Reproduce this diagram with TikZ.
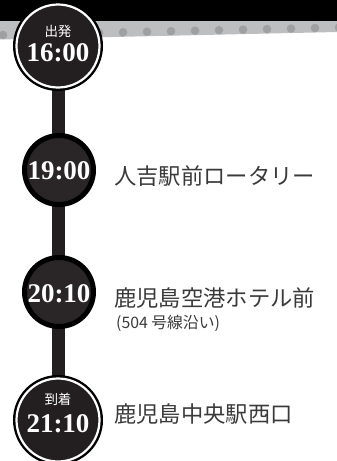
\documentclass[tikz,border=0pt]{standalone}
\usepackage{fontspec}
\setmainfont{Liberation Serif}
\newfontfamily\jp{Noto Sans CJK JP}
\definecolor{stopfill}{HTML}{231F20}
\definecolor{stopfilltwo}{HTML}{2A2627}
\definecolor{bandgray}{HTML}{BCBEC0}
\definecolor{dotgray}{HTML}{9FA0A2}
\definecolor{labelgray}{HTML}{3A3A3A}
\begin{document}
\begin{tikzpicture}[x=1pt,y=-1pt,
  bigstop/.style={circle, fill=stopfill, draw=white, line width=2.2pt, minimum size=83pt, inner sep=0pt,
    preaction={draw=black, line width=7pt}},
  smallstop/.style={circle, fill=stopfilltwo, draw=black, line width=5pt, minimum size=69pt, inner sep=0pt},
  timetext/.style={text=white, font=\fontsize{27}{27}\selectfont\bfseries, inner sep=0pt},
  tagtext/.style={text=white, font=\jp\fontsize{13.5}{13.5}\selectfont, inner sep=0pt},
  placetext/.style={text=labelgray, anchor=west, inner sep=0pt, font=\jp\fontsize{22.3}{22.3}\selectfont},
  subtext/.style={text=labelgray, anchor=west, inner sep=0pt, font=\jp\fontsize{15.8}{15.8}\selectfont},
  routeline/.style={draw=stopfill, line width=13pt}
]
\useasboundingbox (0,0) rectangle (337,461);
% header bands
\fill[black] (0,0) rectangle (337,21);
\fill[bandgray] (0,21) -- (337,21) -- (337,32) -- (0,39.5) -- cycle;
\foreach \i in {0,...,14}{
  \pgfmathsetmacro{\dx}{3+24*\i}
  \pgfmathsetmacro{\dy}{35-0.0224*(\dx-3)}
  \fill[dotgray] (\dx,\dy) circle (4.3);
}
% stop positions
\coordinate (p1) at (58,46);
\coordinate (p2) at (59,170);
\coordinate (p3) at (59,292);
\coordinate (p4) at (58,420);
\draw[routeline] (p1) -- (p4);
% stops
\node[bigstop] (s1) at (p1) {};
\node[smallstop] (s2) at (p2) {};
\node[smallstop] (s3) at (p3) {};
\node[bigstop] (s4) at (p4) {};
% texts in stops
\node[tagtext] (tag1) at (58,31) {出発};
\node[timetext] (t1) at (58,52.5) {16:00};
\node[timetext] (t2) at (59,171) {19:00};
\node[timetext] (t3) at (59,294) {20:10};
\node[tagtext] (tag4) at (58,399) {到着};
\node[timetext] (t4) at (58,423.5) {21:10};
% place labels
\node[placetext] (l2) at (114,176) {人吉駅前ロータリー};
\node[placetext] (l3) at (114,298) {鹿児島空港ホテル前};
\node[subtext] (l3b) at (116,323) {(504 号線沿い)};
\node[placetext] (l4) at (114,414) {鹿児島中央駅西口};
\end{tikzpicture}
\end{document}
